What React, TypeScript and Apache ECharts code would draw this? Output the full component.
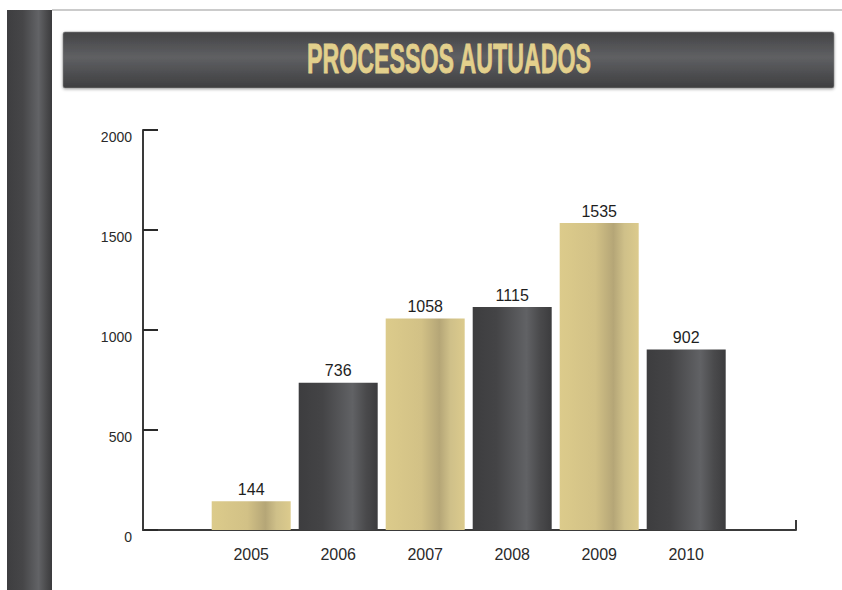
import React, { useEffect, useRef } from "react";
import * as echarts from "echarts";

const titleText = "PROCESSOS AUTUADOS";
const categories = ["2005", "2006", "2007", "2008", "2009", "2010"];
const values = [144, 736, 1058, 1115, 1535, 902];
const barTones = ["gold", "dark", "gold", "dark", "gold", "dark"];
const yTicks = { min: 0, max: 2000, interval: 500 };

const goldGradient = () =>
  new echarts.graphic.LinearGradient(0, 0, 1, 0, [
    { offset: 0, color: "#dccb8b" },
    { offset: 0.45, color: "#d2c186" },
    { offset: 0.68, color: "#b5a677" },
    { offset: 0.82, color: "#cfc089" },
    { offset: 1, color: "#dccb8d" },
  ]);

const darkGradient = () =>
  new echarts.graphic.LinearGradient(0, 0, 1, 0, [
    { offset: 0, color: "#3d3d3f" },
    { offset: 0.3, color: "#444446" },
    { offset: 0.68, color: "#616265" },
    { offset: 0.85, color: "#4a4a4c" },
    { offset: 1, color: "#3c3c3e" },
  ]);

export default function App() {
  const ref = useRef<HTMLDivElement>(null);

  useEffect(() => {
    if (!ref.current) return;
    const chart = echarts.init(ref.current, undefined, { renderer: "svg" });

    const data = values.map((v, i) => ({
      value: v,
      itemStyle: { color: barTones[i] === "gold" ? goldGradient() : darkGradient() },
    }));

    const labelFont = "'Liberation Sans', Arial, sans-serif";

    chart.setOption({
      animation: false,
      backgroundColor: "#ffffff",
      graphic: [
        {
          type: "rect",
          shape: { x: 52, y: 9, width: 790, height: 2 },
          style: { fill: "#cbcbcb" },
          silent: true,
        },
        {
          type: "rect",
          shape: { x: 7, y: 10, width: 45, height: 580 },
          style: {
            fill: new echarts.graphic.LinearGradient(0, 0, 1, 0, [
              { offset: 0, color: "#3e3e40" },
              { offset: 0.35, color: "#464648" },
              { offset: 0.7, color: "#626366" },
              { offset: 0.88, color: "#4a4a4c" },
              { offset: 1, color: "#3b3b3d" },
            ]),
          },
          silent: true,
        },
        {
          type: "rect",
          shape: { x: 63, y: 32, width: 771, height: 56, r: 2 },
          style: {
            fill: new echarts.graphic.LinearGradient(0, 0, 0, 1, [
              { offset: 0, color: "#444446" },
              { offset: 0.45, color: "#5f6063" },
              { offset: 1, color: "#3e3e40" },
            ]),
            stroke: "#8a8a8c",
            lineWidth: 0.6,
            shadowBlur: 3,
            shadowColor: "rgba(0,0,0,0.35)",
            shadowOffsetY: 1,
          },
          silent: true,
        },
        {
          type: "text",
          x: 449,
          y: 58,
          scaleX: 0.54,
          style: {
            x: 0,
            y: 0,
            text: titleText,
            fill: "#e3d08c",
            stroke: "#e3d08c",
            lineWidth: 0.8,
            font: "bold 43px 'Liberation Sans', Arial, sans-serif",
            textAlign: "center",
            textVerticalAlign: "middle",
          },
          silent: true,
        },
      ],
      grid: [
        { left: 207.7, top: 130, width: 522, height: 400, containLabel: false },
        { left: 143, top: 130, width: 653, height: 400, containLabel: false },
      ],
      xAxis: [
        {
          type: "category",
          gridIndex: 0,
          data: categories,
          axisLine: { show: false },
          axisTick: { show: false },
          axisLabel: {
            color: "#2a2a2a",
            fontSize: 16,
            fontFamily: labelFont,
            margin: 16,
          },
          splitLine: { show: false },
        },
        {
          type: "value",
          gridIndex: 1,
          min: 0,
          max: 1,
          interval: 1,
          axisLine: { show: true, lineStyle: { color: "#3a3a3a", width: 2 } },
          axisTick: { show: true, inside: true, length: 10, lineStyle: { color: "#3a3a3a", width: 2 } },
          axisLabel: { show: false },
          splitLine: { show: false },
        },
      ],
      yAxis: [
        {
          type: "value",
          gridIndex: 0,
          min: yTicks.min,
          max: yTicks.max,
          interval: yTicks.interval,
          show: false,
          splitLine: { show: false },
        },
        {
          type: "value",
          gridIndex: 1,
          min: yTicks.min,
          max: yTicks.max,
          interval: yTicks.interval,
          axisLine: { show: true, lineStyle: { color: "#3a3a3a", width: 2 } },
          axisTick: { show: true, inside: true, length: 15, lineStyle: { color: "#2a2a2a", width: 2 } },
          axisLabel: {
            color: "#2a2a2a",
            fontSize: 14,
            fontFamily: labelFont,
            margin: 11,
            verticalAlign: "top",
            formatter: (v: number) => String(v),
          },
          splitLine: { show: false },
        },
      ],
      series: [
        {
          type: "bar",
          xAxisIndex: 0,
          yAxisIndex: 0,
          barWidth: 79,
          data,
          label: {
            show: true,
            position: "top",
            distance: 4,
            color: "#1e1e1e",
            fontSize: 16,
            fontFamily: labelFont,
          },
        },
      ],
    });

    return () => chart.dispose();
  }, []);

  return (
    <div
      ref={ref}
      style={{ position: "fixed", left: 0, top: 0, width: 842, height: 590, background: "#fff" }}
    />
  );
}
